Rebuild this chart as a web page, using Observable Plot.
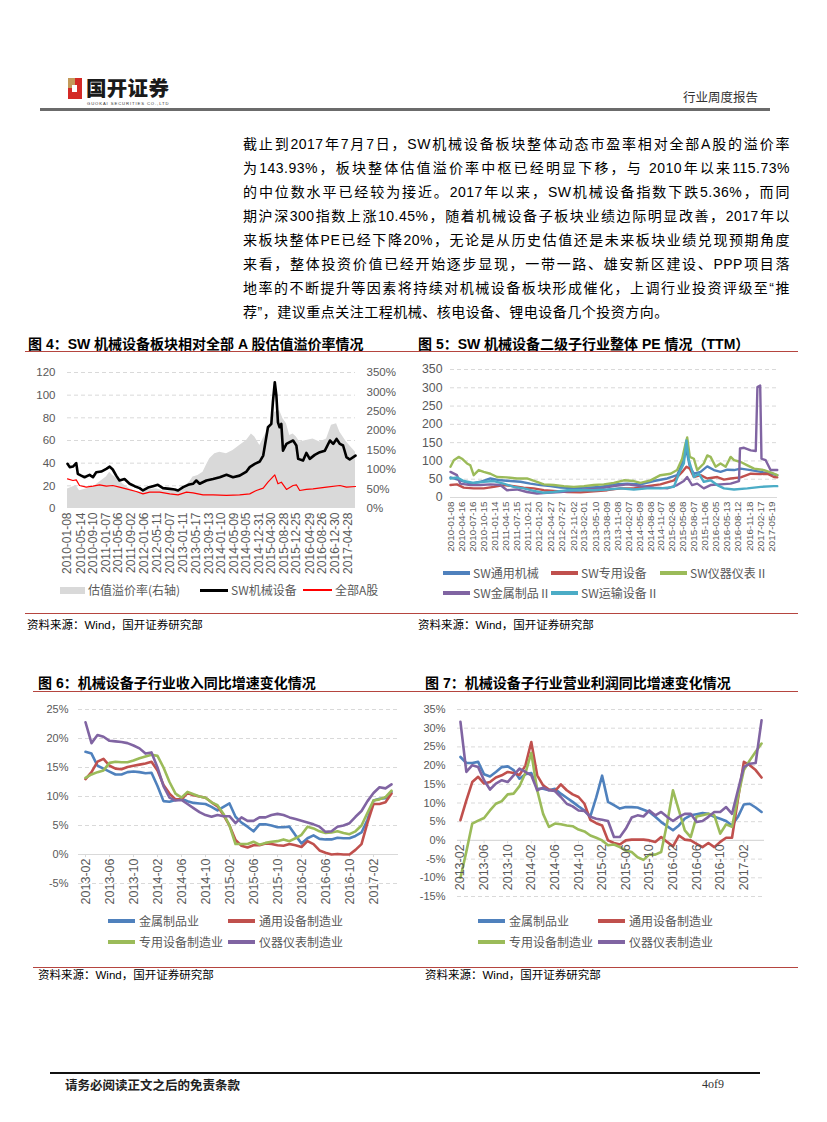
<!DOCTYPE html>
<html><head><meta charset="utf-8">
<script src="https://cdn.jsdelivr.net/npm/d3@7"></script>
<script src="https://cdn.jsdelivr.net/npm/@observablehq/plot@0.6"></script>
<style>
html,body{margin:0;padding:0;background:#fff;}
body{width:827px;height:1122px;position:relative;overflow:hidden;font-family:"Liberation Sans","Noto Sans CJK SC",sans-serif;color:#000;}
.a{position:absolute;white-space:nowrap;}
.ttl{font-family:"Liberation Sans","Noto Sans CJK SC";font-weight:700;font-size:14px;line-height:18px;}
.src{font-family:"Liberation Sans","Noto Sans CJK SC";font-size:11.5px;line-height:14px;}
.lg{font-family:"Noto Sans CJK SC";font-size:12px;line-height:14px;color:#595959;}
.sw{position:absolute;}
.pl{position:absolute;left:243px;width:547px;font-size:14px;line-height:24px;height:24px;letter-spacing:0.5px;text-align:justify;text-align-last:justify;white-space:nowrap;}
</style></head><body>
<script>
// ---------------- DATA ----------------
const para = [
"截止到2017年7月7日，SW机械设备板块整体动态市盈率相对全部A股的溢价率",
"为143.93%，板块整体估值溢价率中枢已经明显下移，与 2010年以来115.73%",
"的中位数水平已经较为接近。2017年以来，SW机械设备指数下跌5.36%，而同",
"期沪深300指数上涨10.45%，随着机械设备子板块业绩边际明显改善，2017年以",
"来板块整体PE已经下降20%，无论是从历史估值还是未来板块业绩兑现预期角度",
"来看，整体投资价值已经开始逐步显现，一带一路、雄安新区建设、PPP项目落",
"地率的不断提升等因素将持续对机械设备板块形成催化，上调行业投资评级至“推",
"荐”，建议重点关注工程机械、核电设备、锂电设备几个投资方向。"
];

// Figure 4
const ticks4 = ["2010-01-08","2010-05-14","2010-09-10","2011-01-07","2011-05-06","2011-09-02","2012-01-06","2012-05-11","2012-09-07","2013-01-11","2013-05-17","2013-09-13","2014-01-10","2014-05-09","2014-09-05","2014-12-31","2015-04-30","2015-08-28","2015-12-25","2016-04-29","2016-08-26","2016-12-30","2017-04-28"];
const sw4 = [["2010-01-08",39.4],["2010-01-29",36.5],["2010-03-01",37],["2010-04-01",40],["2010-04-16",30.6],["2010-05-18",29],["2010-06-19",27.6],["2010-08-06",29.7],["2010-09-07",27.6],["2010-10-08",32],["2010-11-25",32.6],["2011-01-12",35],["2011-02-13",37],["2011-03-14",34.4],["2011-04-16",29],["2011-05-17",24.7],["2011-07-04",26],["2011-08-21",21.8],["2011-10-08",19.7],["2011-11-24",18],["2011-12-26",15.9],["2012-02-13",18.5],["2012-03-30",19.7],["2012-05-16",20.9],["2012-07-03",18],["2012-09-06",17.3],["2012-10-23",16.8],["2012-11-24",15.9],["2013-01-11",18.8],["2013-02-28",20.9],["2013-04-15",21.8],["2013-05-16",24.7],["2013-06-17",21.8],["2013-08-20",24.7],["2013-10-22",26],["2013-12-25",27.6],["2014-02-27",29.7],["2014-04-30",27.6],["2014-07-02",29],["2014-09-05",32.6],["2014-10-06",36.5],["2014-11-23",39.4],["2015-01-10",41.5],["2015-02-11",46.7],["2015-03-28",71.7],["2015-04-29",74.7],["2015-05-14",93.8],["2015-06-01",111.4],["2015-06-16",99.7],["2015-07-01",76],["2015-07-17",71.7],["2015-08-02",74.7],["2015-08-18",51],["2015-09-20",57],["2015-10-21",58.5],["2015-11-22",60],["2015-12-23",55.6],["2016-01-09",43.8],["2016-02-25",42.3],["2016-03-27",49],["2016-04-28",43.8],["2016-06-15",47.3],["2016-08-02",49.7],["2016-09-19",51],["2016-11-06",60],["2016-12-07",57],["2017-01-08",61.4],["2017-02-09",57],["2017-03-11",55.6],["2017-04-12",45.3],["2017-05-13",43.2],["2017-07-07",46.7]];
const all4 = [["2010-01-08",26.2],["2010-03-01",24.7],["2010-04-01",25.3],["2010-05-02",20.3],["2010-07-05",18.8],["2010-09-07",19.7],["2010-11-09",20.9],["2011-01-12",19.7],["2011-03-14",20.3],["2011-05-17",18.8],["2011-07-20",17.3],["2011-10-23",15],["2011-12-26",12.9],["2012-02-28",14.4],["2012-06-02",14.4],["2012-09-06",12.9],["2012-11-24",12],["2013-02-12",14.4],["2013-04-15",13.8],["2013-07-19",12],["2013-10-22",12],["2014-02-27",11.5],["2014-07-02",12],["2014-10-06",12.9],["2014-12-08",15.9],["2015-02-11",18],["2015-03-28",23.2],["2015-06-01",29.7],["2015-07-01",21.8],["2015-08-02",23.2],["2015-09-20",16.8],["2015-11-22",20.3],["2015-12-23",20.9],["2016-01-24",15.9],["2016-03-27",16.8],["2016-05-29",17.3],["2016-10-05",18.8],["2017-02-09",20.3],["2017-04-12",18.8],["2017-07-07",19.4]];
const prem4 = [["2010-01-08",50],["2010-04-01",59],["2010-05-02",46],["2010-07-05",50],["2010-09-07",55],["2010-11-09",68],["2011-01-12",81],["2011-02-13",93],["2011-03-14",85],["2011-05-01",76],["2011-06-18",63],["2011-08-21",51],["2011-10-23",44],["2011-12-26",42],["2012-02-28",49],["2012-05-01",51],["2012-07-03",46],["2012-09-06",45],["2012-11-08",44],["2013-01-11",52],["2013-03-14",68],["2013-04-15",81],["2013-06-01",85],["2013-07-19",93],["2013-08-20",111],["2013-09-21",128],["2013-11-08",141],["2013-12-25",145],["2014-02-27",141],["2014-04-30",149],["2014-07-02",162],["2014-09-05",175],["2014-10-22",192],["2014-11-23",184],["2015-01-10",162],["2015-02-26",188],["2015-04-13",209],["2015-06-01",248],["2015-07-17",252],["2015-08-18",231],["2015-09-20",218],["2015-10-21",188],["2015-11-22",192],["2015-12-23",184],["2016-01-24",171],["2016-03-27",175],["2016-05-29",179],["2016-08-02",171],["2016-10-05",179],["2016-11-21",214],["2017-01-08",218],["2017-02-09",196],["2017-04-12",171],["2017-07-07",145]];

// Figure 5
const ticks5 = ["2010-01-08","2010-04-16","2010-07-16","2010-10-15","2011-01-14","2011-04-15","2011-07-15","2011-10-21","2012-01-20","2012-04-27","2012-07-27","2012-11-02","2013-02-01","2013-05-10","2013-08-09","2013-11-08","2014-02-07","2014-05-09","2014-08-08","2014-11-07","2015-02-06","2015-05-08","2015-08-07","2015-11-06","2016-02-05","2016-05-13","2016-08-12","2016-11-18","2017-02-17","2017-05-19"];
const tyjx5 = [["2010-01-08",55],["2010-03-30",47],["2010-06-23",38],["2010-09-15",43],["2010-12-08",52],["2011-03-01",47],["2011-05-23",45],["2011-08-16",43],["2011-11-08",38],["2012-01-31",34],["2012-04-23",31],["2012-07-16",27],["2012-11-05",26],["2013-02-26",27],["2013-06-17",29],["2013-10-06",36],["2014-01-27",38],["2014-05-17",36],["2014-09-06",45],["2014-12-27",52],["2015-03-20",61],["2015-05-01",93],["2015-06-06",129],["2015-07-04",84],["2015-08-07",65],["2015-10-02",70],["2015-11-27",85],["2016-01-22",75],["2016-03-17",70],["2016-05-13",76],["2016-07-08",75],["2016-09-02",79],["2016-11-25",75],["2017-02-17",70],["2017-05-10",65],["2017-07-05",61]];
const zysb5 = [["2010-01-08",34],["2010-03-03",36],["2010-04-28",27],["2010-07-21",25],["2010-10-13",25],["2011-01-05",29],["2011-03-28",34],["2011-06-21",31],["2011-09-12",27],["2011-12-05",25],["2012-02-28",20],["2012-05-21",18],["2012-09-11",15],["2013-01-01",14],["2013-04-22",17],["2013-08-12",20],["2013-12-01",25],["2014-03-22",25],["2014-07-12",31],["2014-10-31",36],["2015-02-21",47],["2015-05-01",70],["2015-06-06",84],["2015-07-04",79],["2015-08-07",56],["2015-10-02",61],["2015-11-27",52],["2016-02-19",56],["2016-04-15",49],["2016-06-10",52],["2016-09-02",55],["2016-11-25",65],["2017-02-17",64],["2017-04-13",65],["2017-06-07",56],["2017-07-05",55]];
const yqyb5 = [["2010-01-08",84],["2010-02-05",102],["2010-03-17",111],["2010-04-14",106],["2010-05-26",93],["2010-06-23",88],["2010-07-21",61],["2010-09-01",75],["2010-10-13",70],["2010-12-08",65],["2011-02-02",56],["2011-04-26",55],["2011-07-18",52],["2011-10-10",52],["2012-01-02",43],["2012-02-28",36],["2012-05-21",34],["2012-08-13",31],["2012-11-05",29],["2013-01-29",31],["2013-04-22",34],["2013-07-14",36],["2013-10-06",40],["2013-12-29",47],["2014-03-22",45],["2014-05-17",40],["2014-08-09",47],["2014-10-31",61],["2015-01-24",65],["2015-03-20",75],["2015-05-01",106],["2015-05-29",147],["2015-06-12",164],["2015-07-04",111],["2015-08-07",106],["2015-09-04",75],["2015-10-29",93],["2015-11-27",115],["2015-12-25",111],["2016-02-05",84],["2016-03-17",93],["2016-04-29",84],["2016-06-10",111],["2016-07-08",102],["2016-09-02",97],["2016-10-28",88],["2016-12-23",79],["2017-03-16",75],["2017-06-07",65],["2017-07-05",61]];
const jszp5 = [["2010-01-08",70],["2010-03-03",61],["2010-03-30",38],["2010-06-23",34],["2010-09-15",34],["2010-12-08",36],["2011-03-01",34],["2011-04-26",20],["2011-07-18",22],["2011-10-10",15],["2012-01-02",11],["2012-03-26",13],["2012-07-16",15],["2012-11-05",18],["2013-02-26",22],["2013-06-17",25],["2013-10-06",31],["2014-01-27",36],["2014-05-17",31],["2014-09-06",27],["2014-12-27",25],["2015-03-20",34],["2015-05-15",45],["2015-06-12",56],["2015-07-23",34],["2015-09-04",38],["2015-10-29",25],["2015-12-25",34],["2016-03-17",36],["2016-06-10",38],["2016-08-19",45],["2016-08-27",134],["2016-09-30",136],["2016-11-25",129],["2017-01-06",127],["2017-01-20",302],["2017-02-12",306],["2017-02-23",106],["2017-03-30",102],["2017-05-10",75],["2017-07-05",75]];
const yssb5 = [["2010-01-08",52],["2010-03-03",55],["2010-04-28",45],["2010-07-21",40],["2010-10-13",43],["2011-01-05",45],["2011-03-28",38],["2011-06-21",29],["2011-09-12",25],["2011-12-05",18],["2012-02-28",13],["2012-05-21",15],["2012-09-11",20],["2013-01-01",20],["2013-04-22",20],["2013-08-12",22],["2013-12-01",25],["2014-03-22",22],["2014-07-12",25],["2014-10-31",25],["2015-02-21",29],["2015-04-03",65],["2015-05-15",93],["2015-06-06",156],["2015-06-26",102],["2015-08-07",56],["2015-09-18",65],["2015-10-29",43],["2015-12-25",47],["2016-02-19",34],["2016-04-15",25],["2016-07-08",22],["2016-10-28",25],["2017-02-17",29],["2017-06-07",31],["2017-07-05",31]];

// Figures 6 & 7 (monthly)
const months = ["2013-02","2013-03","2013-04","2013-05","2013-06","2013-07","2013-08","2013-09","2013-10","2013-11","2013-12","2014-01","2014-02","2014-03","2014-04","2014-05","2014-06","2014-07","2014-08","2014-09","2014-10","2014-11","2014-12","2015-01","2015-02","2015-03","2015-04","2015-05","2015-06","2015-07","2015-08","2015-09","2015-10","2015-11","2015-12","2016-01","2016-02","2016-03","2016-04","2016-05","2016-06","2016-07","2016-08","2016-09","2016-10","2016-11","2016-12","2017-01","2017-02","2017-03","2017-04","2017-05"];
const monthTicks = ["2013-02","2013-06","2013-10","2014-02","2014-06","2014-10","2015-02","2015-06","2015-10","2016-02","2016-06","2016-10","2017-02"];
const rev_jszp = [17.7,17.4,15.3,14.8,14.3,13.8,13.8,14.2,14.3,14.2,14.0,14.1,11.8,9.2,9.1,9.4,9.6,9.2,8.9,8.8,8.7,8.2,7.6,8.2,8.8,6.5,5.5,4.8,4.0,5.2,5.2,5.0,4.7,4.7,4.8,3.3,1.9,2.8,3.3,2.7,2.6,2.6,2.9,2.8,2.8,3.2,3.8,6.0,9.3,9.6,9.7,10.8];
const rev_tysb = [13.0,14.2,16.0,16.5,15.3,14.8,14.7,15.1,15.3,15.5,15.7,16.0,14.5,12.0,10.5,9.5,9.5,10.6,10.2,10.0,9.8,9.0,8.3,6.8,5.0,2.5,1.5,1.2,1.6,1.6,1.9,1.8,1.6,1.5,1.8,1.6,1.3,2.3,1.8,0.7,0.3,0.0,0.1,0.0,0.0,0.8,1.8,5.5,8.7,8.7,9.0,10.5];
const rev_zysb = [13.2,13.8,14.2,14.5,15.8,16.0,15.9,15.9,16.2,16.6,16.9,17.2,17.0,15.0,12.5,10.5,9.8,10.8,10.4,10.0,9.8,9.0,8.5,7.0,5.0,1.8,1.8,1.8,2.2,1.7,2.0,2.2,2.3,2.6,2.3,2.8,3.4,4.8,4.5,4.0,3.7,3.8,4.0,3.7,3.5,4.0,5.0,7.2,9.3,9.5,9.9,11.0];
const rev_yqyb = [22.8,19.2,20.6,20.3,19.6,19.5,19.4,19.2,18.8,18.3,17.4,17.6,15.0,11.8,9.8,9.3,9.4,8.7,8.0,7.3,6.8,6.5,6.8,6.6,6.6,5.4,6.4,5.8,5.8,6.4,6.4,6.8,7.0,6.8,6.4,6.1,5.8,5.5,5.2,4.8,3.9,4.0,4.8,5.0,5.4,6.5,7.5,9.2,10.6,11.6,11.4,12.1];
const pro_jszp = [22.3,20.7,20.7,21.0,17.7,17.1,18.3,19.6,19.8,18.8,16.5,17.7,18.0,13.8,13.8,13.4,13.8,12.5,11.4,10.3,9.1,8.0,6.4,11.5,17.3,10.3,9.4,8.5,8.9,8.9,8.8,8.2,7.6,6.3,4.9,3.8,2.7,4.0,5.8,6.7,7.0,7.3,7.1,6.3,5.8,5.2,4.0,6.3,9.6,9.8,8.8,7.6];
const pro_tysb = [5.4,10.7,15.6,17.0,15.2,15.6,16.8,17.4,18.3,18.0,17.5,20.0,26.3,17.4,14.7,13.6,13.2,15.0,13.4,12.3,11.6,9.8,5.5,4.6,4.0,0.0,-0.7,-1.1,0.0,0.2,0.2,0.2,0.0,-0.4,0.9,-0.4,-1.6,1.3,0.2,0.0,-0.9,-1.8,-0.7,-1.8,-0.4,0.7,0.7,11.0,21.0,20.1,18.8,16.8];
const pro_zysb = [-10.0,-3.0,4.5,5.3,6.0,8.0,9.8,10.5,12.3,12.5,14.5,18.0,23.4,13.4,7.1,3.6,4.5,4.3,4.0,3.8,2.9,2.4,1.3,0.7,0.0,-1.3,-1.1,-1.8,-2.7,-3.1,-4.5,-5.2,-3.8,-3.8,-3.1,4.5,13.4,8.0,2.7,0.9,6.4,6.7,7.1,6.7,1.8,4.3,3.6,11.6,18.8,21.4,23.7,25.9];
const pro_yqyb = [31.7,18.3,20.1,19.6,16.1,13.6,15.2,16.1,15.6,17.4,19.2,18.3,17.4,13.4,14.1,13.4,13.2,11.6,9.8,9.1,8.0,7.9,6.3,5.8,5.5,5.2,0.9,0.9,3.1,6.1,6.7,6.4,8.0,6.7,7.6,6.3,5.2,6.3,7.1,7.1,4.9,5.2,6.3,7.6,7.6,8.9,7.1,13.4,19.6,20.5,20.7,32.1];

const C = {blue:"#4F81BD", red:"#C0504D", green:"#9BBB59", purple:"#8064A2", aqua:"#4BACC6"};
const AX = "#595959", GRID = "#d9d9d9", LINE = "#b5453f";

// ---------------- HELPERS ----------------
const parse = s => new Date(s + "T00:00:00Z");
const fmt = d3.utcFormat("%Y-%m-%d");
const toRows = arr => arr.map(([d, v]) => ({date: parse(d), v}));
function put(html, css, cls) {
  const el = document.createElement("div");
  el.className = "a " + (cls || "");
  el.innerHTML = html;
  Object.assign(el.style, css);
  document.body.appendChild(el);
  return el;
}
function box(css) { const el = put("", css, "sw"); return el; }
function mount(svg, left, top) {
  const d = document.createElement("div");
  d.style.position = "absolute"; d.style.left = left + "px"; d.style.top = top + "px";
  d.appendChild(svg); document.body.appendChild(d);
}
const baseStyle = {background: "transparent", fontFamily: "Liberation Sans, Arial, sans-serif", fontSize: "11px", color: AX, overflow: "visible"};

// ---------------- HEADER ----------------
box({left:"68px", top:"78px", width:"14px", height:"21px", background:"#d42a26"});
box({left:"68px", top:"78px", width:"7px", height:"10px", background:"#c39a5a"});
box({left:"72px", top:"85px", width:"5px", height:"7px", background:"#fff"});
put("国开证券", {left:"86px", top:"77px", fontFamily:"Noto Sans CJK SC", fontWeight:"900", fontSize:"20.5px", lineHeight:"21px", letterSpacing:"0.3px", color:"#1a1a1a"});
put("GUOKAI SECURITIES CO.,LTD", {left:"87px", top:"100.5px", fontSize:"4.2px", lineHeight:"5px", letterSpacing:"0.9px", color:"#333"});
put("行业周度报告", {left:"683px", top:"89px", fontFamily:"Noto Sans CJK SC", fontSize:"12.5px", lineHeight:"16px", color:"#333"});
box({left:"40px", top:"108px", width:"730px", height:"2.5px", background:"#6b6b6b"});

// ---------------- PARAGRAPH ----------------
para.forEach((t, i) => {
  const el = document.createElement("div");
  el.className = "pl";
  el.style.top = (132 + 24 * i) + "px";
  if (i === para.length - 1) { el.style.textAlignLast = "left"; }
  el.textContent = t;
  document.body.appendChild(el);
});

// ---------------- TITLES & RULES ----------------
put("图 4：SW 机械设备板块相对全部 A 股估值溢价率情况", {left:"28px", top:"335px"}, "ttl");
put("图 5：SW 机械设备二级子行业整体 PE 情况（TTM）", {left:"418px", top:"335px"}, "ttl");
box({left:"25px", top:"351px", width:"773px", height:"1.2px", background:LINE});
box({left:"25px", top:"612.5px", width:"773px", height:"1.2px", background:LINE});
put("资料来源：Wind，国开证券研究部", {left:"27px", top:"618px"}, "src");
put("资料来源：Wind，国开证券研究部", {left:"418px", top:"618px"}, "src");

put("图 6：机械设备子行业收入同比增速变化情况", {left:"38px", top:"674px"}, "ttl");
put("图 7：机械设备子行业营业利润同比增速变化情况", {left:"425px", top:"674px"}, "ttl");
box({left:"33px", top:"691px", width:"765px", height:"1.2px", background:LINE});
box({left:"33px", top:"966.5px", width:"765px", height:"1.2px", background:LINE});
put("资料来源：Wind，国开证券研究部", {left:"38px", top:"968px"}, "src");
put("资料来源：Wind，国开证券研究部", {left:"425px", top:"968px"}, "src");

// ---------------- FOOTER ----------------
box({left:"50px", top:"1072px", width:"710px", height:"2px", background:"#111"});
put("请务必阅读正文之后的免责条款", {left:"65px", top:"1077px", fontFamily:"Noto Sans CJK SC", fontWeight:"700", fontSize:"12.5px", lineHeight:"15px", color:"#222"});
put("4of9", {left:"702px", top:"1077px", fontFamily:"Liberation Serif", fontSize:"12px", lineHeight:"15px", color:"#333"});

// ---------------- FIGURE 4 ----------------
const k4 = 120 / 350;
const fig4 = Plot.plot({
  width: 385, height: 225, marginLeft: 42, marginRight: 55, marginTop: 12, marginBottom: 77,
  style: baseStyle,
  x: {type: "utc", domain: [parse("2010-01-08"), parse("2017-07-07")], axis: null},
  y: {domain: [0, 120], axis: null},
  marks: [
    Plot.ruleY([20, 40, 60, 80, 100, 120], {stroke: GRID, strokeDasharray: "4,3"}),
    Plot.areaY(toRows(prem4), {x: "date", y: d => d.v * k4, fill: "#d9d9d9"}),
    Plot.lineY(toRows(sw4), {x: "date", y: "v", stroke: "#000", strokeWidth: 2.6}),
    Plot.lineY(toRows(all4), {x: "date", y: "v", stroke: "#ff0000", strokeWidth: 1.2}),
    Plot.axisY([0, 20, 40, 60, 80, 100, 120], {anchor: "left", tickSize: 0, tickPadding: 12, fontSize: 11.5, label: null}),
    Plot.axisY([0, 50, 100, 150, 200, 250, 300, 350].map(v => v * k4), {anchor: "right", tickSize: 0, tickPadding: 11, fontSize: 11.5, tickFormat: d => Math.round(d / k4) + "%", label: null}),
    Plot.axisX(ticks4.map(parse), {anchor: "bottom", tickSize: 0, tickPadding: 4, tickRotate: -90, tickFormat: fmt, fontSize: 12, label: null})
  ]
});
mount(fig4, 25, 360);
// legend 4
box({left:"60px", top:"587px", width:"25px", height:"7px", background:"#d9d9d9"});
put("估值溢价率(右轴)", {left:"88px", top:"583px"}, "lg");
box({left:"200px", top:"588.5px", width:"28px", height:"3px", background:"#000"});
put("SW机械设备", {left:"231px", top:"583px"}, "lg");
box({left:"303px", top:"589px", width:"29px", height:"1.5px", background:"#ff0000"});
put("全部A股", {left:"335px", top:"583px"}, "lg");

// ---------------- FIGURE 5 ----------------
const fig5 = Plot.plot({
  width: 390, height: 197, marginLeft: 40, marginRight: 23, marginTop: 9, marginBottom: 60,
  style: baseStyle,
  x: {type: "utc", domain: [parse("2010-01-08"), parse("2017-07-07")], axis: null},
  y: {domain: [0, 350], axis: null},
  marks: [
    Plot.ruleY([50, 100, 150, 200, 250, 300, 350], {stroke: GRID, strokeDasharray: "4,3"}),
    Plot.ruleY([0], {stroke: GRID}),
    Plot.lineY(toRows(tyjx5), {x: "date", y: "v", stroke: C.blue, strokeWidth: 2.4}),
    Plot.lineY(toRows(zysb5), {x: "date", y: "v", stroke: C.red, strokeWidth: 2.4}),
    Plot.lineY(toRows(yqyb5), {x: "date", y: "v", stroke: C.green, strokeWidth: 2.4}),
    Plot.lineY(toRows(jszp5), {x: "date", y: "v", stroke: C.purple, strokeWidth: 2.4}),
    Plot.lineY(toRows(yssb5), {x: "date", y: "v", stroke: C.aqua, strokeWidth: 2.4}),
    Plot.axisY([0, 50, 100, 150, 200, 250, 300, 350], {anchor: "left", tickSize: 0, tickPadding: 8, fontSize: 12.3, label: null}),
    Plot.axisX(ticks5.map(parse), {anchor: "bottom", tickSize: 0, tickPadding: 4, tickRotate: -90, tickFormat: fmt, fontSize: 9.8, label: null})
  ]
});
mount(fig5, 410, 360);
// legend 5
const lg5 = [
  [443, 573, C.blue, "SW通用机械"], [551, 573, C.red, "SW专用设备"], [660, 573, C.green, "SW仪器仪表Ⅱ"],
  [443, 593, C.purple, "SW金属制品Ⅱ"], [551, 593, C.aqua, "SW运输设备Ⅱ"]
];
lg5.forEach(([x, y, c, t]) => {
  box({left: x + "px", top: (y - 2) + "px", width: "27px", height: "4px", background: c});
  put(t, {left: (x + 30) + "px", top: (y - 7) + "px"}, "lg");
});

// ---------------- FIGURES 6 & 7 ----------------
function monthly(series, ticks, yDomain, W, H, mL, mR, mT, mB, pad) {
  const rows = s => months.map((m, i) => ({m, v: s[i]}));
  const grid = ticks.filter(t => t !== 0);
  return Plot.plot({
    width: W, height: H, marginLeft: mL, marginRight: mR, marginTop: mT, marginBottom: mB,
    style: baseStyle,
    x: {type: "point", domain: months, padding: 0.5, axis: null},
    y: {domain: yDomain, axis: null},
    marks: [
      Plot.ruleY(grid, {stroke: GRID, strokeDasharray: "4,3"}),
      Plot.ruleY([0], {stroke: GRID, strokeWidth: 1.2}),
      Plot.ruleX(monthTicks, {x: d => d, y1: 0, y2: (yDomain[1] - yDomain[0]) * -0.018, stroke: GRID}),
      ...series.map(([s, c]) => Plot.line(rows(s), {x: "m", y: "v", stroke: c, strokeWidth: 2.6})),
      Plot.axisY(ticks, {anchor: "left", tickSize: 0, tickPadding: pad, fontSize: 11, tickFormat: d => d + "%", label: null}),
      Plot.text(monthTicks, {x: d => d, y: 0, text: d => d, rotate: -90, textAnchor: "end", dy: 4, fontSize: 12.5, fill: AX})
    ]
  });
}
const fig6 = monthly([[rev_jszp, C.blue], [rev_tysb, C.red], [rev_zysb, C.green], [rev_yqyb, C.purple]],
  [-5, 0, 5, 10, 15, 20, 25], [-5, 25], 385, 189, 53, 12, 9, 6, 10);
mount(fig6, 25, 700);
const fig7 = monthly([[pro_jszp, C.blue], [pro_tysb, C.red], [pro_zysb, C.green], [pro_yqyb, C.purple]],
  [-15, -10, -5, 0, 5, 10, 15, 20, 25, 30, 35], [-15, 35], 390, 202, 47, 36, 9, 6, 12);
mount(fig7, 410, 700);
// legends 6 & 7
const lg67 = [
  [108, 921, C.blue, "金属制品业"], [228, 921, C.red, "通用设备制造业"],
  [108, 942, C.green, "专用设备制造业"], [228, 942, C.purple, "仪器仪表制造业"],
  [478, 921, C.blue, "金属制品业"], [598, 921, C.red, "通用设备制造业"],
  [478, 942, C.green, "专用设备制造业"], [598, 942, C.purple, "仪器仪表制造业"]
];
lg67.forEach(([x, y, c, t]) => {
  box({left: x + "px", top: (y - 2) + "px", width: "27px", height: "4px", background: c});
  put(t, {left: (x + 31) + "px", top: (y - 7) + "px"}, "lg");
});
</script>
</body></html>
